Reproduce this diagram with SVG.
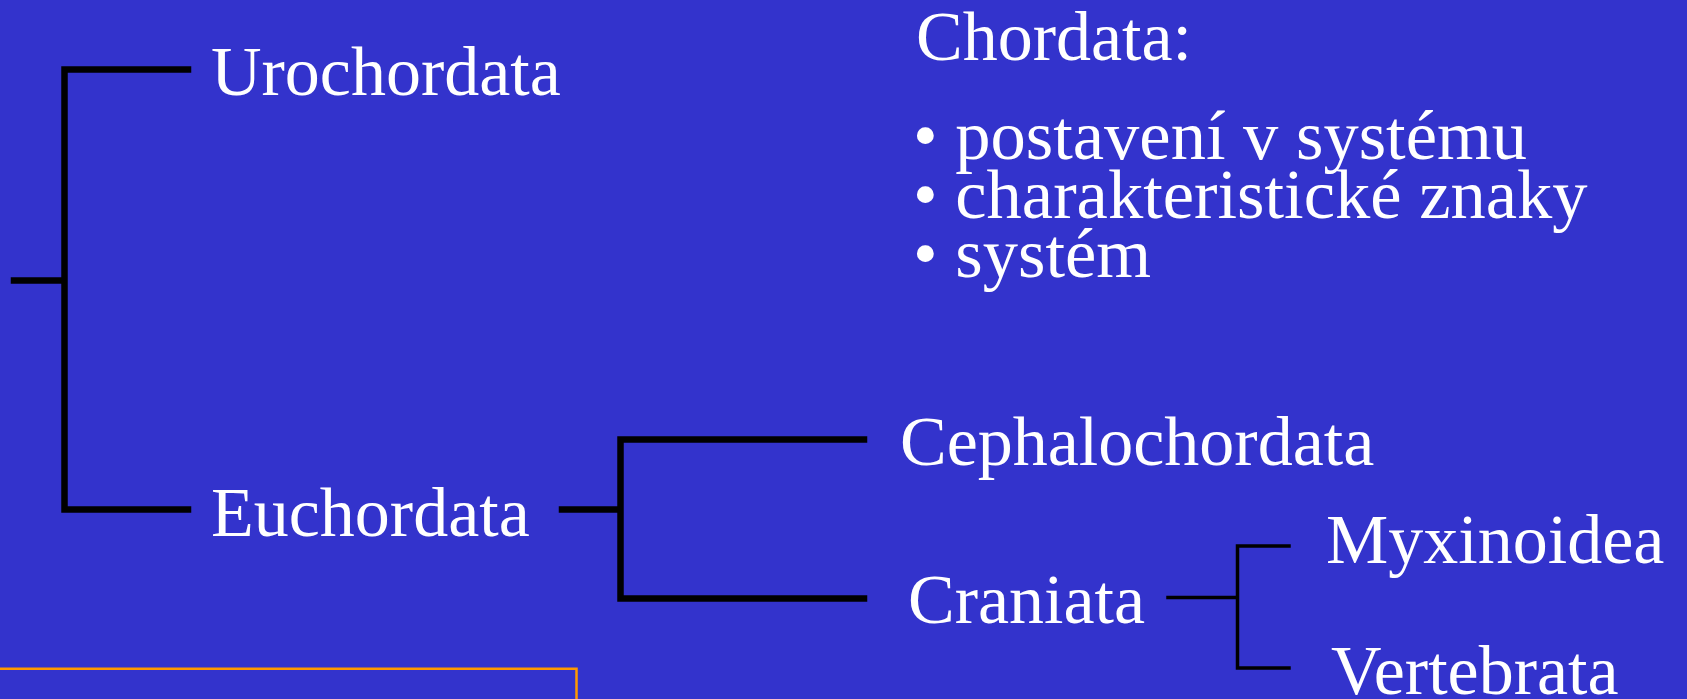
<svg xmlns="http://www.w3.org/2000/svg" width="1687" height="699" viewBox="0 0 1687 699">
<style>
.t{font-family:"Liberation Serif","Times New Roman",serif;font-size:70px;fill:#ffffff}
.b{font-family:"Liberation Serif","Times New Roman",serif;font-size:70.5px;fill:#ffffff}
.thick{stroke:#000;stroke-width:6.5;fill:none;stroke-linecap:square}
.thin{stroke:#000;stroke-width:3.5;fill:none;stroke-linecap:square}
</style>
<rect x="0" y="0" width="1687" height="699" fill="#3333CC"/>
<g id="connectors">
<path class="thick" d="M14 280.5 H62"/>
<path class="thick" d="M188 69.5 H64.5 V509.5 H188"/>
<path class="thick" d="M562 509.5 H618"/>
<path class="thick" d="M864 439.5 H620.5 V598.5 H864"/>
<path class="thin" d="M1168 597.5 H1236"/>
<path class="thin" d="M1289 546 H1237.5 V668 H1289"/>
<path d="M0 668.7 H576.5 V699" stroke="#FF9900" stroke-width="2.5" fill="none"/>
</g>
<g id="urochordata"><text class="t" x="211" y="95">Urochordata</text></g>
<g id="euchordata"><text class="t" x="211" y="536">Euchordata</text></g>
<g id="cephalochordata"><text class="t" x="900" y="465">Cephalochordata</text></g>
<g id="craniata"><text class="t" x="908" y="623">Craniata</text></g>
<g id="myxinoidea"><text class="t" x="1326" y="563">Myxinoidea</text></g>
<g id="vertebrata"><text class="t" x="1331" y="694">Vertebrata</text></g>
<g id="chordata-info">
<text class="t" x="916" y="60">Chordata:</text>
<text class="b" x="913" y="159">• postavení v systému</text>
<text class="b" x="913" y="218">• charakteristické znaky</text>
<text class="b" x="913" y="277">• systém</text>
</g>
</svg>
